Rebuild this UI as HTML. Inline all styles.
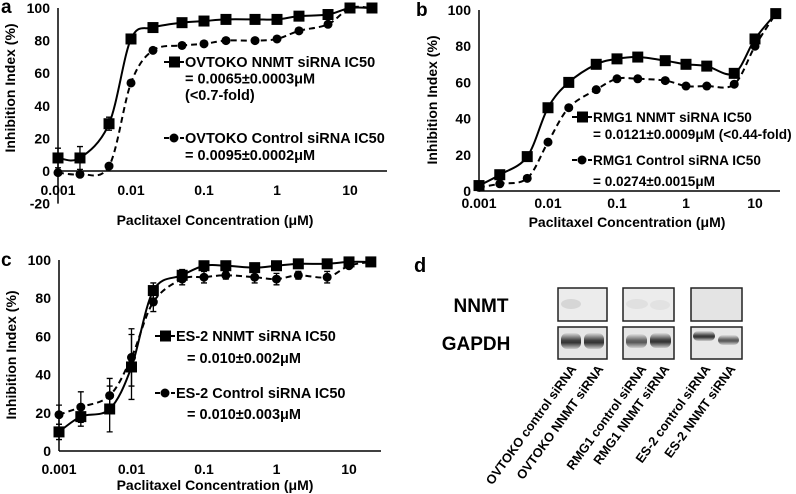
<!DOCTYPE html>
<html><head><meta charset="utf-8"><style>
body{margin:0;background:#fff}
svg{display:block;font-family:"Liberation Sans",sans-serif;font-weight:bold}
</style></head><body>
<svg id="fig" width="796" height="494" viewBox="0 0 796 494" xmlns="http://www.w3.org/2000/svg">
<g id="pa"></g>
<g id="pb"></g>
<g id="pc"></g>
<g id="pd">
  <text x="414" y="272" font-size="20">d</text>
  <text x="481" y="312" font-size="19" text-anchor="middle">NNMT</text>
  <text x="476" y="350" font-size="19" text-anchor="middle">GAPDH</text>
  <defs>
    <linearGradient id="bandG" x1="0" y1="0" x2="0" y2="1">
      <stop offset="0" stop-color="#ddd"/><stop offset="0.45" stop-color="#444"/><stop offset="0.6" stop-color="#333"/><stop offset="1" stop-color="#ccc"/>
    </linearGradient>
  </defs>
  <g><rect x="558" y="288" width="49" height="33" fill="#ececec" stroke="#222" stroke-width="1.5"/><ellipse cx="571" cy="304" rx="10" ry="5" fill="#d6d6d6"/></g>
  <g><rect x="623" y="288" width="51" height="33" fill="#ececec" stroke="#222" stroke-width="1.5"/><ellipse cx="637" cy="304" rx="11" ry="5" fill="#e0e0e0"/><ellipse cx="660" cy="305" rx="10" ry="5" fill="#e2e2e2"/></g>
  <g><rect x="691" y="288" width="51" height="33" fill="#e4e4e4" stroke="#222" stroke-width="1.5"/></g>
  <g><rect x="558" y="327" width="49" height="32" fill="#e6e6e6" stroke="#222" stroke-width="1.5"/><rect x="561" y="333" width="20" height="16" rx="6" fill="url(#bandG)"/><rect x="584" y="333" width="20" height="16" rx="6" fill="url(#bandG)"/></g>
  <g><rect x="623" y="327" width="51" height="32" fill="#e6e6e6" stroke="#222" stroke-width="1.5"/><rect x="626" y="334" width="21" height="14" rx="6" fill="url(#bandG)" opacity="0.8"/><rect x="650" y="333" width="21" height="15" rx="6" fill="url(#bandG)"/></g>
  <g><rect x="691" y="327" width="51" height="32" fill="#e8e8e8" stroke="#222" stroke-width="1.5"/><rect x="693" y="331" width="22" height="10" rx="5" fill="url(#bandG)"/><rect x="718" y="335" width="21" height="10" rx="5" fill="url(#bandG)" opacity="0.8"/></g>
  <g font-size="12.8" text-anchor="end">
    <text transform="translate(577,369) rotate(-54)">OVTOKO control siRNA</text>
    <text transform="translate(604,369) rotate(-54)">OVTOKO NNMT siRNA</text>
    <text transform="translate(647,369) rotate(-54)">RMG1 control siRNA</text>
    <text transform="translate(670,369) rotate(-54)">RMG1 NNMT siRNA</text>
    <text transform="translate(711,369) rotate(-54)">ES-2 control siRNA</text>
    <text transform="translate(736,369) rotate(-54)">ES-2 NNMT siRNA</text>
  </g>
</g>
</svg>
<script>
const concentrations=[0.001,0.002,0.005,0.01,0.02,0.05,0.1,0.2,0.5,1,2,5,10,20];
const xTickValues=[0.001,0.01,0.1,1,10];
const xTickLabels=["0.001","0.01","0.1","1","10"];
const aNnmt=[8,8,29,81,88,91,92,93,93,93,95,96,100,100];
const aControl=[-1,-2,3,54,74,77,78,80,80,81,86,90,100,100];
const aNnmtErr=[6,7,4,0,0,0,0,0,0,0,0,0,0,0];
const aControlErr=[0,0,0,0,0,0,0,0,0,0,0,0,0,0];
const aYTicks=[-20,0,20,40,60,80,100];
const bNnmt=[3,9,19,46,60,70,73,74,72,70,69,65,84,98];
const bControl=[2,4,7,27,46,56,62,62,61,58,58,59,80,98];
const bYTicks=[0,20,40,60,80,100];
const cNnmt=[10,18,22,44,84,92,97,97,96,97,98,98,99,99];
const cControl=[19,23,29,49,78,90,91,92,91,90,92,91,97,99];
const cNnmtErr=[4,5,12,17,4,3,1,1,1,1,1,1,1,0];
const cControlErr=[5,8,9,15,5,3,3,2,3,3,2,3,1,0];
const cYTicks=[0,20,40,60,80,100];

const NS="http://www.w3.org/2000/svg";
function mk(parent,tag,attrs){const e=document.createElementNS(NS,tag);for(const k in attrs)e.setAttribute(k,attrs[k]);parent.appendChild(e);return e;}

function smoothPath(pts){
  let d="M"+pts[0][0]+","+pts[0][1];
  for(let i=0;i<pts.length-1;i++){
    const p0=pts[i-1]||pts[i],p1=pts[i],p2=pts[i+1],p3=pts[i+2]||p2;
    const t=0.5/3;
    const c1=[p1[0]+(p2[0]-p0[0])*t,p1[1]+(p2[1]-p0[1])*t];
    const c2=[p2[0]-(p3[0]-p1[0])*t,p2[1]-(p3[1]-p1[1])*t];
    d+=" C"+c1[0]+","+c1[1]+" "+c2[0]+","+c2[1]+" "+p2[0]+","+p2[1];
  }
  return d;
}

function panel(cfg){
  const g=document.getElementById(cfg.id);
  const xs=v=>cfg.x0+(Math.log10(v)+3)*cfg.dec;
  const ys=v=>cfg.yZero-(v/100)*(cfg.yZero-cfg.y100);
  let t=mk(g,"text",{x:cfg.lx,y:cfg.ly,"font-size":19});t.textContent=cfg.letter;
  
  
  const yMin=cfg.yTicks[0];
  let l=mk(g,"line",{x1:cfg.x0,x2:cfg.x0,y1:ys(100),y2:ys(yMin),stroke:"#000","stroke-width":1.5});
  
  
  l=mk(g,"line",{x1:cfg.x0,x2:cfg.xEnd,y1:ys(0),y2:ys(0),stroke:"#000","stroke-width":1.5});
  
  
  cfg.yTicks.forEach(v=>{
    const tt=mk(g,"text",{x:cfg.x0-8,y:ys(v)+5,"font-size":14,"text-anchor":"end"});tt.textContent=v;
    
    
  });
  xTickValues.forEach((v,i)=>{
    const tt=mk(g,"text",{x:xs(v),y:cfg.xLabY,"font-size":14,"text-anchor":"middle"});tt.textContent=xTickLabels[i];
    
    
  });
  let xt=mk(g,"text",{x:cfg.xtX,y:cfg.xtY,"font-size":14,"text-anchor":"middle"});xt.textContent="Paclitaxel Concentration (μM)";
  
  
  let yt=mk(g,"text",{transform:"translate("+cfg.ytX+","+cfg.ytY+") rotate(-90)","font-size":14,"text-anchor":"middle"});yt.textContent="Inhibition Index (%)";
  
  
  cfg.series.forEach(s=>{
    const pts=concentrations.map((c,i)=>[xs(c),ys(s.vals[i])]);
    const sg=mk(g,"g",{});
    
    
    mk(sg,"path",{d:smoothPath(pts),fill:"none",stroke:"#000","stroke-width":2,"stroke-dasharray":s.dash?"6,4":"none"});
    if(s.err)s.err.forEach((e,i)=>{if(e>0){const x=pts[i][0];mk(sg,"path",{d:"M"+x+","+ys(s.vals[i]+e)+"V"+ys(s.vals[i]-e)+"M"+(x-3)+","+ys(s.vals[i]+e)+"h6M"+(x-3)+","+ys(s.vals[i]-e)+"h6",stroke:"#000","stroke-width":1.3,fill:"none"});}});
    pts.forEach(p=>{
      let m;
      if(s.sq)m=mk(sg,"rect",{x:p[0]-5.5,y:p[1]-5.5,width:11,height:11,fill:"#000"});
      else m=mk(sg,"circle",{cx:p[0],cy:p[1],r:4.5,fill:"#000"});
      
      
    });
  });
  cfg.legend.forEach(L=>{
    const lg=mk(g,"g",{});
    
    
    mk(lg,"line",{x1:L.x,x2:L.x+20,y1:L.y,y2:L.y,stroke:"#000","stroke-width":2,"stroke-dasharray":L.sq?"none":"5,3"});
    if(L.sq)mk(lg,"rect",{x:L.x+5,y:L.y-5.5,width:11,height:11,fill:"#000"});else mk(lg,"circle",{cx:L.x+10,cy:L.y,r:4.5,fill:"#000"});
    L.lines.forEach((txt,i)=>{const tt=mk(lg,"text",{x:i==0?L.x+21:L.x+L.ind,y:L.y+5+i*L.lh,"font-size":cfg.lfs});tt.textContent=txt;});
  });
}

panel({id:"pa",letter:"a",lx:1,ly:13,x0:58,dec:73,xEnd:387,yZero:171,y100:8,yTicks:aYTicks,xLabY:195,xtX:215,xtY:225,ytX:15,ytY:88,lfs:14.5,
 series:[{name:"series-ovtoko-control",vals:aControl,dash:true,sq:false,err:aControlErr},{name:"series-ovtoko-nnmt",vals:aNnmt,dash:false,sq:true,err:aNnmtErr}],
 legend:[{name:"legend-ovtoko-nnmt",x:164,y:62,sq:true,ind:21,lh:16.5,lines:["OVTOKO NNMT siRNA IC50","= 0.0065±0.0003μM","(<0.7-fold)"]},
         {name:"legend-ovtoko-control",x:164,y:138,sq:false,ind:21,lh:17,lines:["OVTOKO Control siRNA IC50","= 0.0095±0.0002μM"]}]});
panel({id:"pb",letter:"b",lx:416,ly:16,x0:479,dec:69,xEnd:780,yZero:191,y100:10,yTicks:bYTicks,xLabY:208,xtX:627,xtY:227,ytX:437,ytY:100,lfs:13.6,
 series:[{name:"series-rmg1-control",vals:bControl,dash:true,sq:false},{name:"series-rmg1-nnmt",vals:bNnmt,dash:false,sq:true}],
 legend:[{name:"legend-rmg1-nnmt",x:572,y:117,sq:true,ind:21,lh:17,lines:["RMG1 NNMT siRNA IC50","= 0.0121±0.0009μM (<0.44-fold)"]},
         {name:"legend-rmg1-control",x:572,y:160,sq:false,ind:21,lh:21,lines:["RMG1 Control siRNA IC50","= 0.0274±0.0015μM"]}]});
panel({id:"pc",letter:"c",lx:1,ly:266,x0:59,dec:72.5,xEnd:381,yZero:451,y100:260,yTicks:cYTicks,xLabY:474,xtX:215,xtY:490,ytX:16,ytY:355,lfs:14.5,
 series:[{name:"series-es2-control",vals:cControl,dash:true,sq:false,err:cControlErr},{name:"series-es2-nnmt",vals:cNnmt,dash:false,sq:true,err:cNnmtErr}],
 legend:[{name:"legend-es2-nnmt",x:155,y:336,sq:true,ind:32,lh:22,lines:["ES-2 NNMT siRNA IC50","= 0.010±0.002μM"]},
         {name:"legend-es2-control",x:155,y:393,sq:false,ind:32,lh:21,lines:["ES-2 Control siRNA IC50","= 0.010±0.003μM"]}]});
</script>
</body></html>
